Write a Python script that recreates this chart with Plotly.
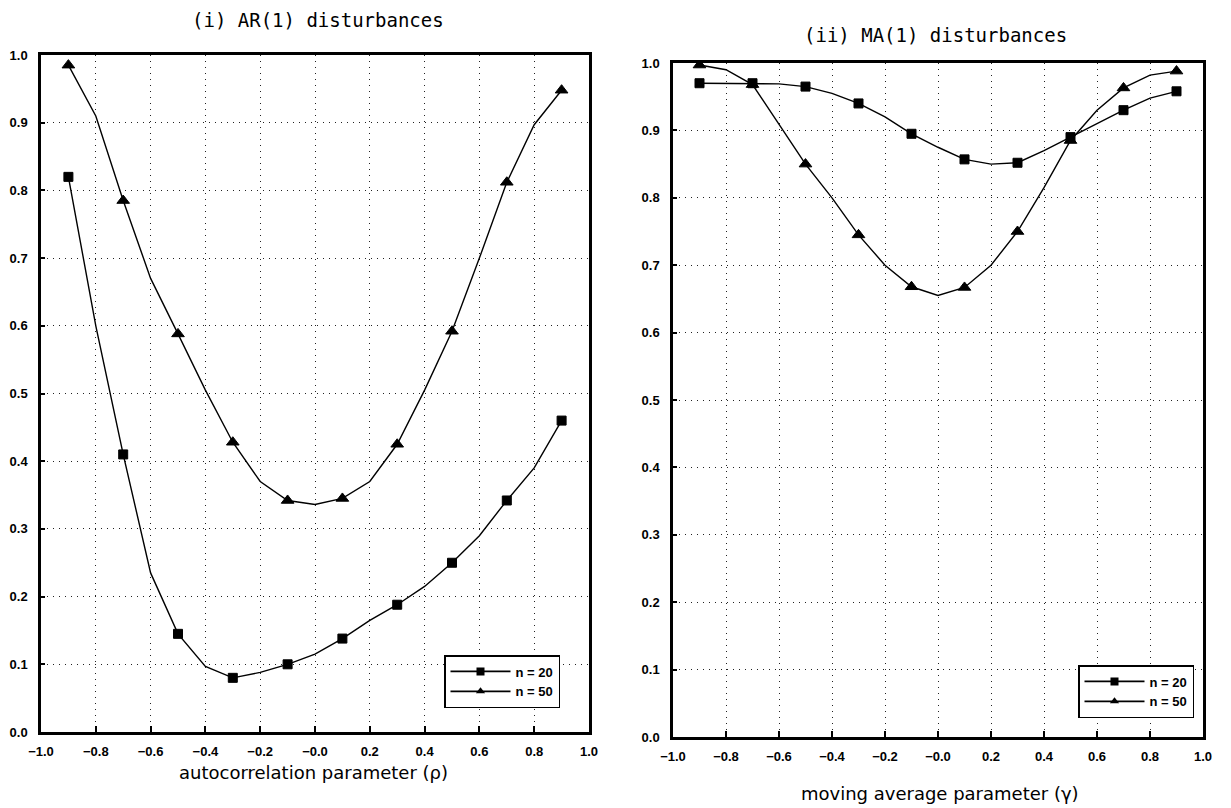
import plotly.graph_objects as go

# ---------------- data ----------------
x_grid = [-0.9, -0.8, -0.7, -0.6, -0.5, -0.4, -0.3, -0.2, -0.1, 0.0,
          0.1, 0.2, 0.3, 0.4, 0.5, 0.6, 0.7, 0.8, 0.9]
marker_x = [-0.9, -0.7, -0.5, -0.3, -0.1, 0.1, 0.3, 0.5, 0.7, 0.9]

ar_n20 = [0.82, 0.60, 0.41, 0.235, 0.145, 0.097, 0.080, 0.088, 0.100, 0.115,
          0.138, 0.165, 0.188, 0.215, 0.250, 0.290, 0.342, 0.390, 0.460]
ar_n50 = [0.985, 0.910, 0.785, 0.670, 0.588, 0.505, 0.428, 0.370, 0.342, 0.336,
          0.345, 0.370, 0.425, 0.505, 0.592, 0.700, 0.812, 0.897, 0.948]

ma_n20 = [0.970, 0.970, 0.970, 0.969, 0.965, 0.955, 0.940, 0.920, 0.895, 0.875,
          0.857, 0.850, 0.852, 0.870, 0.890, 0.910, 0.930, 0.948, 0.958]
ma_n50 = [0.997, 0.990, 0.968, 0.908, 0.850, 0.800, 0.745, 0.700, 0.668, 0.655,
          0.667, 0.700, 0.750, 0.815, 0.885, 0.930, 0.963, 0.982, 0.988]

series_names = ["n = 20", "n = 50"]
x_tickvals = [-1.0, -0.8, -0.6, -0.4, -0.2, 0.0, 0.2, 0.4, 0.6, 0.8, 1.0]
x_ticktext = ["\u22121.0", "\u22120.8", "\u22120.6", "\u22120.4", "\u22120.2",
              "\u22120.0", "0.2", "0.4", "0.6", "0.8", "1.0"]
y_tickvals = [0.0, 0.1, 0.2, 0.3, 0.4, 0.5, 0.6, 0.7, 0.8, 0.9, 1.0]
y_ticktext = ["0.0", "0.1", "0.2", "0.3", "0.4", "0.5", "0.6", "0.7", "0.8", "0.9", "1.0"]

panel_titles = ["(i) AR(1) disturbances", "(ii) MA(1) disturbances"]
x_titles = ["autocorrelation parameter (\u03c1)", "moving average parameter (\u03b3)"]

W, H = 1231, 808

def px_x(p):
    return p / W

def px_y(p):
    return 1 - p / H

fig = go.Figure()

symbols = ["square", "triangle-up"]
msizes = [9, 11]

panels = [
    dict(xa="x", ya="y", legend="legend", data=[ar_n20, ar_n50]),
    dict(xa="x2", ya="y2", legend="legend2", data=[ma_n20, ma_n50]),
]

for p in panels:
    for i, ys in enumerate(p["data"]):
        sizes = [msizes[i] if any(abs(xv - m) < 1e-9 for m in marker_x) else 0 for xv in x_grid]
        fig.add_trace(go.Scatter(
            x=x_grid, y=ys, mode="lines+markers",
            line=dict(color="black", width=1.4),
            marker=dict(symbol=symbols[i], size=sizes, color="black", opacity=1,
                        line=dict(width=1, color="black")),
            xaxis=p["xa"], yaxis=p["ya"], showlegend=False, hoverinfo="x+y",
        ))
    for i in range(2):
        fig.add_trace(go.Scatter(
            x=[None], y=[None], mode="lines+markers", name=series_names[i],
            line=dict(color="black", width=1.8),
            marker=dict(symbol=symbols[i], size=8, color="black", opacity=1),
            xaxis=p["xa"], yaxis=p["ya"], legend=p["legend"], showlegend=True,
        ))

tickfont = dict(family="Liberation Sans, Arial, sans-serif", size=13, color="black", weight="bold")

def xaxis_cfg(domain):
    return dict(
        domain=domain, range=[-1.0, 1.0], tickvals=x_tickvals, ticktext=x_ticktext,
        tickfont=tickfont, ticks="inside", ticklen=6, tickwidth=1.5, tickcolor="black",
        showline=True, linecolor="black", linewidth=2.5, mirror=True,
        showgrid=True, gridcolor="#222", gridwidth=1, griddash="1px,5px",
        zeroline=False, ticklabelstandoff=6, fixedrange=True, automargin=False,
    )

def yaxis_cfg(domain):
    return dict(
        domain=domain, range=[0.0, 1.0], tickvals=y_tickvals, ticktext=y_ticktext,
        tickfont=tickfont, ticks="inside", ticklen=4, tickwidth=1.5, tickcolor="black",
        showline=True, linecolor="black", linewidth=2.5, mirror=True,
        showgrid=True, gridcolor="#222", gridwidth=1, griddash="1px,5px",
        zeroline=False, ticklabelstandoff=8, fixedrange=True, automargin=False,
    )

legend_font = dict(family="Liberation Sans, Arial, sans-serif", size=13, color="black", weight="bold")

fig.update_layout(
    template="none",
    width=W, height=H, autosize=False,
    margin=dict(l=0, r=0, t=0, b=0, autoexpand=False),
    paper_bgcolor="white", plot_bgcolor="white",
    xaxis=xaxis_cfg([px_x(41), px_x(589)]),
    yaxis=yaxis_cfg([px_y(732), px_y(55)]),
    xaxis2=dict(xaxis_cfg([px_x(673), px_x(1203)]), anchor="y2"),
    yaxis2=dict(yaxis_cfg([px_y(737), px_y(63)]), anchor="x2"),
    legend=dict(x=px_x(444), y=px_y(655), xanchor="left", yanchor="top",
                bordercolor="black", borderwidth=1.5, bgcolor="white",
                font=legend_font, tracegroupgap=0, itemwidth=60),
    legend2=dict(x=px_x(1078), y=px_y(665), xanchor="left", yanchor="top",
                 bordercolor="black", borderwidth=1.5, bgcolor="white",
                 font=legend_font, tracegroupgap=0, itemwidth=60),
    showlegend=True,
)

title_font = dict(family="DejaVu Sans Mono, Liberation Mono, monospace", size=19, color="black")
xtitle_font = dict(family="DejaVu Sans, sans-serif", size=18, color="black")

annotations = [
    dict(text=panel_titles[0], x=px_x(318), y=px_y(20), xref="paper", yref="paper",
         showarrow=False, font=title_font, xanchor="center", yanchor="middle"),
    dict(text=panel_titles[1], x=px_x(935), y=px_y(35), xref="paper", yref="paper",
         showarrow=False, font=title_font, xanchor="center", yanchor="middle"),
    dict(text=x_titles[0], x=px_x(313), y=px_y(772), xref="paper", yref="paper",
         showarrow=False, font=xtitle_font, xanchor="center", yanchor="middle"),
    dict(text=x_titles[1], x=px_x(940), y=px_y(793), xref="paper", yref="paper",
         showarrow=False, font=xtitle_font, xanchor="center", yanchor="middle"),
]
fig.update_layout(annotations=annotations)

fig.write_html(
    "out.html",
    config={"displayModeBar": False},
    post_script="document.body.style.margin='0';document.body.style.overflow='hidden';",
)
